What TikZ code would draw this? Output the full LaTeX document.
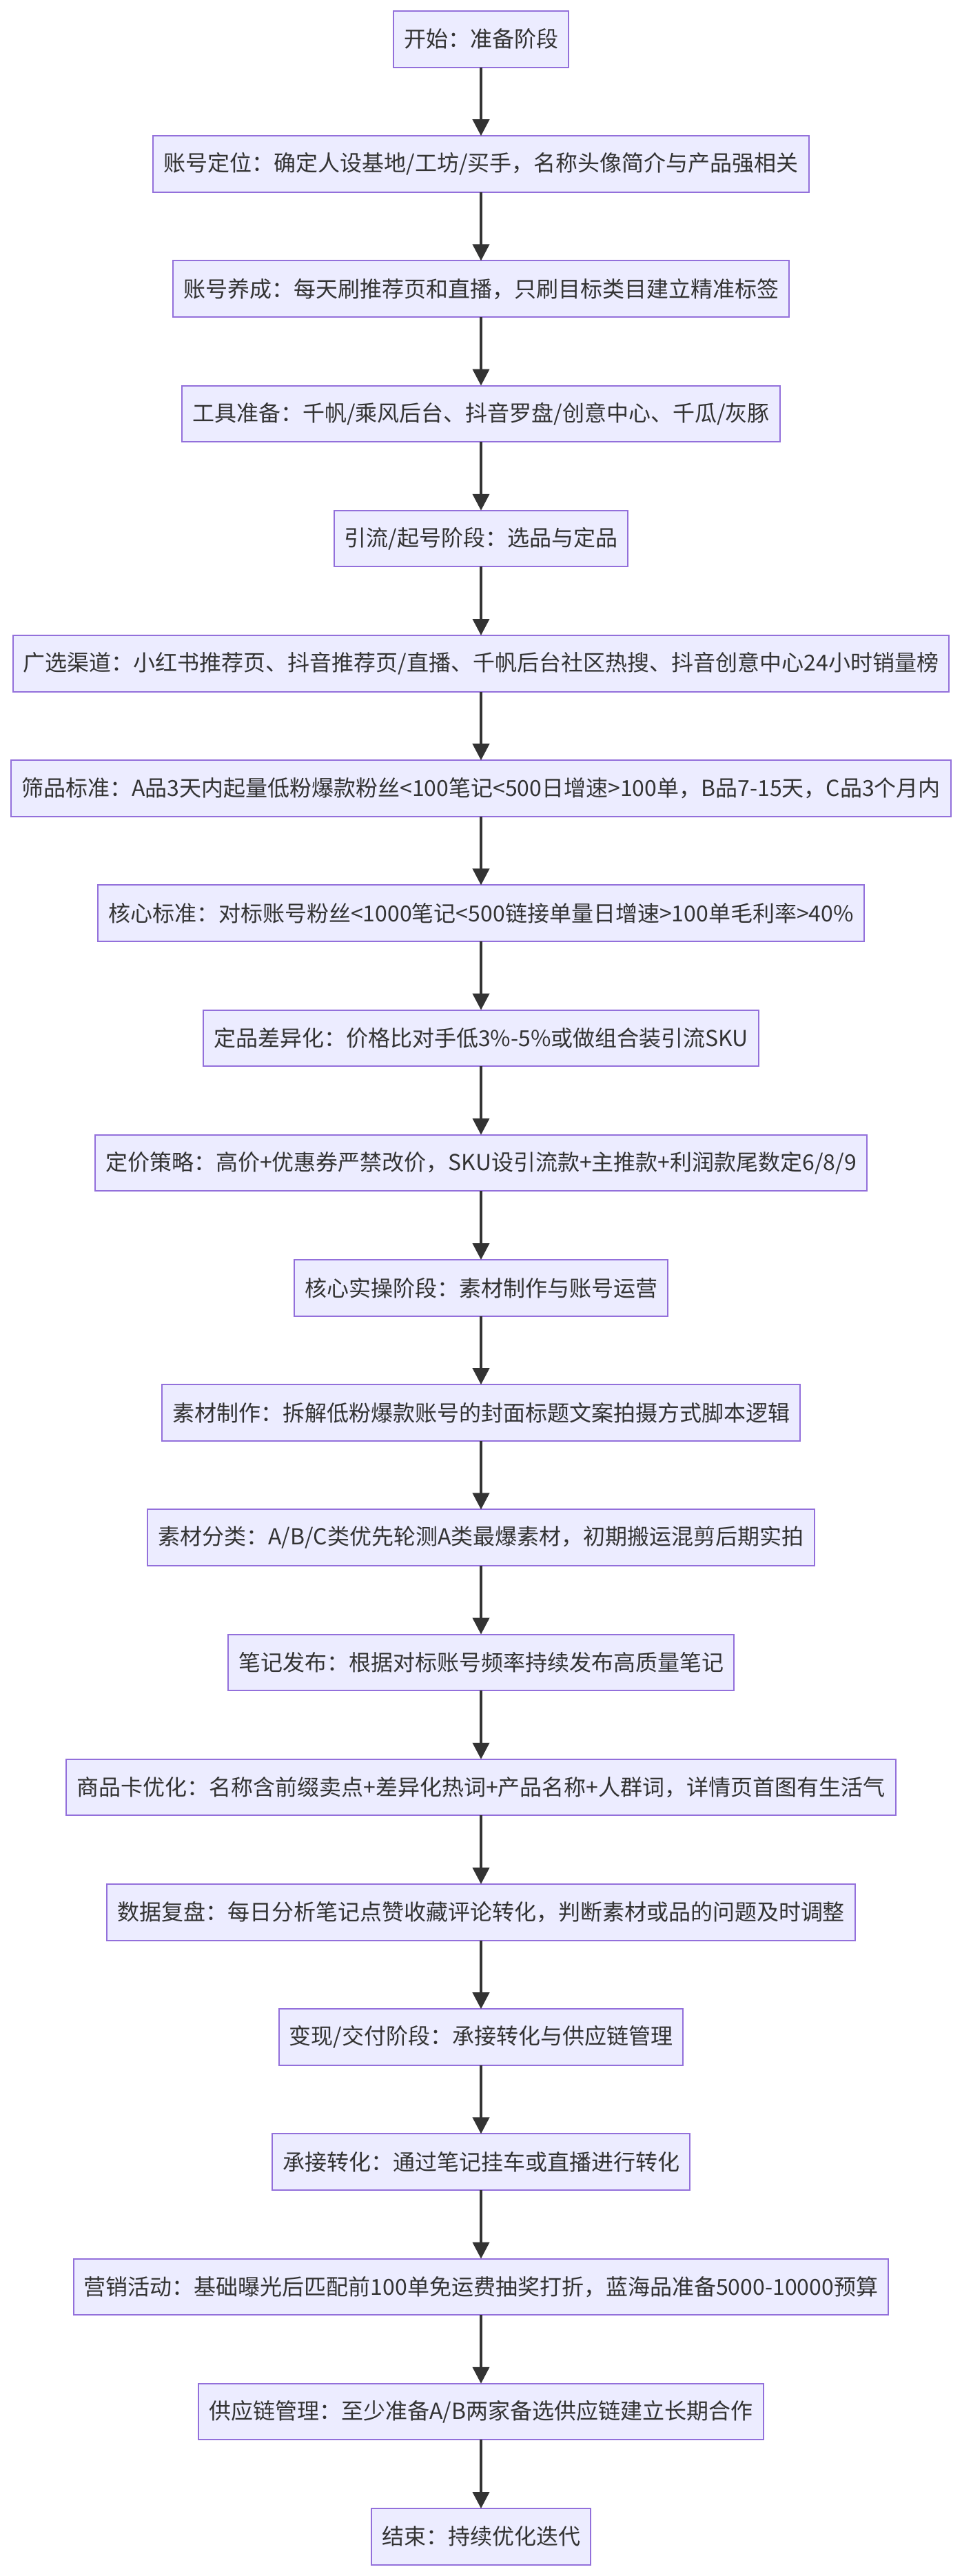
\documentclass[tikz,border=0pt]{standalone}
\usepackage{fontspec}
\setmainfont{Noto Sans CJK SC}
\usetikzlibrary{positioning,arrows.meta}

\definecolor{boxfill}{HTML}{ECECFF}
\definecolor{boxline}{HTML}{9370DB}
\definecolor{ink}{HTML}{333333}

\tikzset{
    stepbox/.style={draw=boxline, fill=boxfill, line width=1pt,
        text=ink, font=\fontsize{16pt}{20pt}\selectfont,
        minimum height=40.8pt, inner xsep=7.5pt, inner ysep=0pt, outer sep=0pt},
    flow/.style={draw=ink, line width=2pt,
        -{Triangle[length=12pt, width=12pt]}}
}

\begin{document}
\begin{tikzpicture}[node distance=49.8pt]
    \useasboundingbox (0,0) rectangle (698pt,-1869pt);
    \node[stepbox, anchor=north] (start) at (349pt,-8pt) {开始：准备阶段};
    \node[stepbox, below=of start] (position) {账号定位：确定人设基地/工坊/买手，名称头像简介与产品强相关};
    \node[stepbox, below=of position] (nurture) {账号养成：每天刷推荐页和直播，只刷目标类目建立精准标签};
    \node[stepbox, below=of nurture] (tools) {工具准备：千帆/乘风后台、抖音罗盘/创意中心、千瓜/灰豚};
    % 选品与定品
    \node[stepbox, below=of tools] (traffic) {引流/起号阶段：选品与定品};
    \node[stepbox, below=of traffic] (channels) {广选渠道：小红书推荐页、抖音推荐页/直播、千帆后台社区热搜、抖音创意中心24小时销量榜};
    \node[stepbox, below=of channels] (screening) {筛品标准：A品3天内起量低粉爆款粉丝<100笔记<500日增速>100单，B品7-15天，C品3个月内};
    \node[stepbox, below=of screening] (core) {核心标准：对标账号粉丝<1000笔记<500链接单量日增速>100单毛利率>40\%};
    \node[stepbox, below=of core] (diff) {定品差异化：价格比对手低3\%-5\%或做组合装引流SKU};
    \node[stepbox, below=of diff] (pricing) {定价策略：高价+优惠券严禁改价，SKU设引流款+主推款+利润款尾数定6/8/9};
    % 素材与运营
    \node[stepbox, below=of pricing] (practice) {核心实操阶段：素材制作与账号运营};
    \node[stepbox, below=of practice] (material) {素材制作：拆解低粉爆款账号的封面标题文案拍摄方式脚本逻辑};
    \node[stepbox, below=of material] (category) {素材分类：A/B/C类优先轮测A类最爆素材，初期搬运混剪后期实拍};
    \node[stepbox, below=of category] (publish) {笔记发布：根据对标账号频率持续发布高质量笔记};
    \node[stepbox, below=of publish] (card) {商品卡优化：名称含前缀卖点+差异化热词+产品名称+人群词，详情页首图有生活气};
    \node[stepbox, below=of card] (review) {数据复盘：每日分析笔记点赞收藏评论转化，判断素材或品的问题及时调整};
    % 变现与交付
    \node[stepbox, below=of review] (cash) {变现/交付阶段：承接转化与供应链管理};
    \node[stepbox, below=of cash] (convert) {承接转化：通过笔记挂车或直播进行转化};
    \node[stepbox, below=of convert] (marketing) {营销活动：基础曝光后匹配前100单免运费抽奖打折，蓝海品准备5000-10000预算};
    \node[stepbox, below=of marketing] (supply) {供应链管理：至少准备A/B两家备选供应链建立长期合作};
    \node[stepbox, below=of supply] (finish) {结束：持续优化迭代};

    \foreach \a/\b in {start/position, position/nurture, nurture/tools, tools/traffic,
        traffic/channels, channels/screening, screening/core, core/diff, diff/pricing,
        pricing/practice, practice/material, material/category, category/publish,
        publish/card, card/review, review/cash, cash/convert, convert/marketing,
        marketing/supply, supply/finish}
        \draw[flow] (\a) -- (\b);
\end{tikzpicture}
\end{document}
